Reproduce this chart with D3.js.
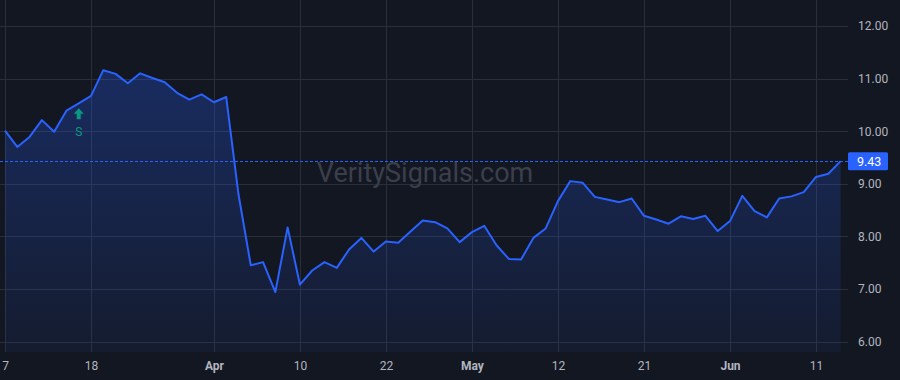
<!DOCTYPE html>
<html>
<head>
<meta charset="utf-8">
<script src="https://cdn.jsdelivr.net/npm/d3@7"></script>
<style>
  body { margin: 0; background: #131722; }
  svg { display: block; }
  text { font-family: Roboto, "Liberation Sans", sans-serif; }
</style>
</head>
<body>
<svg id="chart" width="900" height="380"></svg>
<script>
/* price series, one value per trading day (7 Mar -> 13 Jun) */
let prices = [10.01, 9.70, 9.89, 10.21, 9.99, 10.39, 10.53, 10.67, 11.16, 11.09,
    10.91, 11.10, 11.01, 10.93, 10.73, 10.60, 10.70, 10.55, 10.65, 8.80,
    7.45, 7.51, 6.94, 8.17, 7.08, 7.35, 7.51, 7.40, 7.75, 7.97,
    7.71, 7.90, 7.88, 8.09, 8.30, 8.27, 8.15, 7.89, 8.08, 8.20,
    7.83, 7.57, 7.56, 7.97, 8.15, 8.67, 9.05, 9.02, 8.75, 8.70,
    8.65, 8.72, 8.39, 8.32, 8.24, 8.38, 8.33, 8.39, 8.10, 8.29,
    8.77, 8.48, 8.36, 8.72, 8.76, 8.84, 9.13, 9.19, 9.43];

/* time axis ticks (index into prices) */
let tickIdx = [0, 7, 17, 24, 31, 38, 45, 52, 59, 66];
let tickLabels = ["7", "18", "Apr", "10", "22", "May", "12", "21", "Jun", "11"];
let monthTicks = ["Apr", "May", "Jun"];

let priceTicks = [6, 7, 8, 9, 10, 11, 12];

/* signal marker */
let signals = [{i: 6, label: "S"}];

let svg = d3.select("#chart");
let width = +svg.attr("width");
let height = +svg.attr("height");

let plotRight = 848, plotBottom = 352;

let x = d3.scaleLinear()
    .domain([0, prices.length - 1])
    .range([5, 840.6]);

let y = d3.scaleLinear()
    .domain([6, 12])
    .range([341.5, 26]);

svg.append("rect")
    .attr("width", width)
    .attr("height", height)
    .attr("fill", "#131722");

// gradient for the area
let defs = svg.append("defs");
let grad = defs.append("linearGradient")
    .attr("id", "areaFill")
    .attr("x1", 0).attr("y1", 0).attr("x2", 0).attr("y2", 1);
grad.append("stop").attr("offset", "0%").attr("stop-color", "#2962ff").attr("stop-opacity", 0.28);
grad.append("stop").attr("offset", "100%").attr("stop-color", "#2962ff").attr("stop-opacity", 0.06);

// grid
let grid = svg.append("g").attr("stroke", "#2a2e39").attr("stroke-width", 1);
grid.selectAll("line.h")
    .data(priceTicks)
    .enter().append("line")
    .attr("x1", 0).attr("x2", plotRight)
    .attr("y1", d => Math.round(y(d)) + 0.5)
    .attr("y2", d => Math.round(y(d)) + 0.5);
grid.selectAll("line.v")
    .data(tickIdx)
    .enter().append("line")
    .attr("y1", 0).attr("y2", plotBottom)
    .attr("x1", d => Math.round(x(d)) + 0.5)
    .attr("x2", d => Math.round(x(d)) + 0.5);

// watermark
svg.append("text")
    .attr("x", 425)
    .attr("y", 182)
    .attr("text-anchor", "middle")
    .attr("font-size", 27)
    .attr("fill", "#3b3f4b")
    .text("VeritySignals.com");

// area + line
let area = d3.area()
    .x((d, i) => x(i))
    .y0(plotBottom)
    .y1(d => y(d));
svg.append("path")
    .datum(prices)
    .attr("fill", "url(#areaFill)")
    .attr("d", area);

let line = d3.line()
    .x((d, i) => x(i))
    .y(d => y(d));
svg.append("path")
    .datum(prices)
    .attr("fill", "none")
    .attr("stroke", "#2962ff")
    .attr("stroke-width", 2)
    .attr("stroke-linejoin", "round")
    .attr("d", line);

// last price line
let last = prices[prices.length - 1];
svg.append("line")
    .attr("x1", 0).attr("x2", plotRight)
    .attr("y1", Math.round(y(last)) + 0.5)
    .attr("y2", Math.round(y(last)) + 0.5)
    .attr("stroke", "#2962ff")
    .attr("stroke-width", 1)
    .attr("stroke-dasharray", "3,2");

// signal markers
let sig = svg.selectAll("g.sig")
    .data(signals)
    .enter().append("g")
    .attr("transform", d => "translate(" + x(d.i) + "," + (y(prices[d.i]) + 5) + ")");
sig.append("path")
    .attr("d", "M0,0 L5,5.5 L2,5.5 L2,11 L-2,11 L-2,5.5 L-5,5.5 Z")
    .attr("fill", "#089981");
sig.append("text")
    .attr("y", 28)
    .attr("text-anchor", "middle")
    .attr("font-size", 12)
    .attr("fill", "#089981")
    .text(d => d.label);

// right price axis
let yAxis = svg.append("g")
    .attr("transform", "translate(" + plotRight + ",0)")
    .call(d3.axisRight(y).tickValues(priceTicks).tickFormat(d3.format(".2f")).tickSize(0).tickPadding(10));
yAxis.select(".domain").remove();
yAxis.selectAll("text")
    .attr("fill", "#b2b5be")
    .attr("font-size", 12)
    .attr("font-family", "Roboto, 'Liberation Sans', sans-serif");

// last price label
let lp = svg.append("g").attr("transform", "translate(" + plotRight + "," + y(last) + ")");
lp.append("rect")
    .attr("x", 0).attr("y", -9)
    .attr("width", 40).attr("height", 18)
    .attr("rx", 1.5)
    .attr("fill", "#2962ff");
lp.append("text")
    .attr("x", 9)
    .attr("dy", "0.35em")
    .attr("font-size", 12.5)
    .attr("fill", "#ffffff")
    .text(d3.format(".2f")(last));

// bottom time axis
let xAxis = svg.append("g")
    .attr("transform", "translate(0," + plotBottom + ")")
    .call(d3.axisBottom(x).tickValues(tickIdx)
        .tickFormat((d, i) => tickLabels[i]).tickSize(0).tickPadding(9));
xAxis.select(".domain").remove();
xAxis.selectAll("text")
    .attr("fill", "#b2b5be")
    .attr("font-size", 12)
    .attr("font-family", "Roboto, 'Liberation Sans', sans-serif")
    .attr("font-weight", (d, i) => monthTicks.includes(tickLabels[i]) ? "bold" : "normal");
</script>
</body>
</html>
